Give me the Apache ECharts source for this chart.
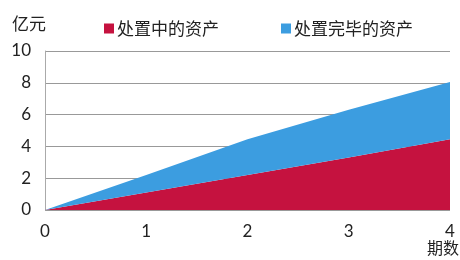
<!DOCTYPE html>
<html>
<head>
<meta charset="utf-8">
<script src="https://cdn.jsdelivr.net/npm/echarts@6/dist/echarts.min.js"></script>
<style>
  html, body { margin: 0; padding: 0; background: #fff; }
  #chart { width: 460px; height: 260px; }
</style>
</head>
<body>
<div id="chart"></div>
<script>
// 数据
var periods = ['0', '1', '2', '3', '4'];
var inProcess = [0, 1.1, 2.2, 3.3, 4.45];      // 处置中的资产
var finished = [0, 1.1, 2.25, 3.0, 3.6];       // 处置完毕的资产 (叠加)
var seriesNames = ['处置中的资产', '处置完毕的资产'];

var font = '"Noto Sans CJK SC", Lato, sans-serif';
var chart = echarts.init(document.getElementById('chart'));
chart.setOption({
    backgroundColor: '#fff',
    animation: false,
    textStyle: { fontFamily: font },
    grid: { left: 45, right: 10, top: 51, bottom: 50 },
    legend: {
        left: 99, top: 15,
        itemWidth: 10, itemHeight: 10, itemGap: 62,
        icon: 'rect',
        textStyle: { fontSize: 17, color: '#222', fontFamily: font, padding: [0, 0, 0, -2] },
        data: seriesNames
    },
    xAxis: {
        type: 'category', boundaryGap: false,
        data: periods,
        axisLine: { show: false },
        axisTick: { show: false },
        splitLine: { show: false },
        axisLabel: { fontSize: 17, color: '#222', margin: 13, fontFamily: 'Lato' }
    },
    yAxis: {
        type: 'value', min: 0, max: 10, interval: 2,
        axisLine: { show: true, lineStyle: { color: '#aaa', width: 1 } },
        axisTick: { show: false },
        splitLine: { lineStyle: { color: '#999', width: 1 } },
        axisLabel: { fontSize: 17, color: '#222', margin: 14, fontFamily: 'Lato' }
    },
    graphic: [
        { type: 'text', left: 12, top: 15, style: { text: '亿元', fill: '#222', font: '17px "Noto Sans CJK SC"' } },
        { type: 'text', left: 427, top: 240, style: { text: '期数', fill: '#222', font: '16px "Noto Sans CJK SC"' } }
    ],
    series: [
        {
            name: seriesNames[0], type: 'line', stack: 'total',
            data: inProcess,
            symbol: 'none',
            lineStyle: { width: 0 },
            itemStyle: { color: '#c5123f' },
            areaStyle: { color: '#c5123f', opacity: 1 }
        },
        {
            name: seriesNames[1], type: 'line', stack: 'total',
            data: finished,
            symbol: 'none',
            lineStyle: { width: 0 },
            itemStyle: { color: '#3c9de0' },
            areaStyle: { color: '#3c9de0', opacity: 1 }
        }
    ]
});
</script>
</body>
</html>
